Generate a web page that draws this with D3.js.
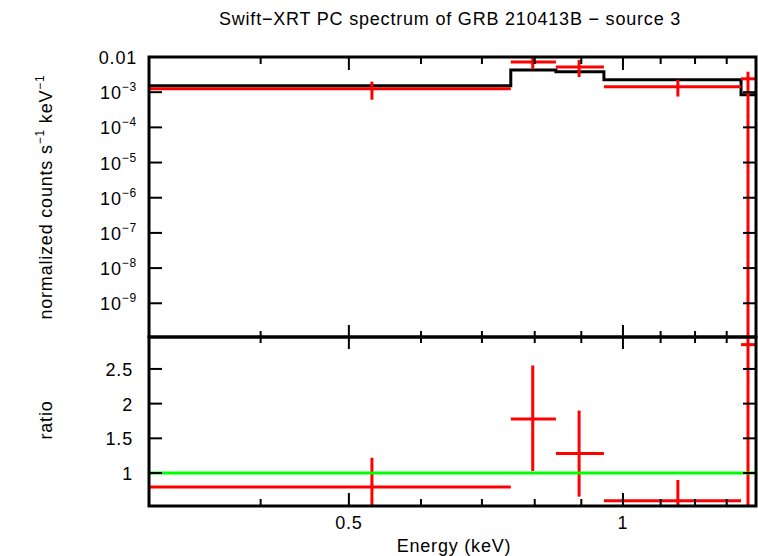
<!DOCTYPE html><html><head><meta charset="utf-8"><script src="https://cdn.jsdelivr.net/npm/d3@7"></script>
<style>body{margin:0;background:#fff}text{font-family:"Liberation Sans",Arial,sans-serif;fill:#000;letter-spacing:0.8px}</style></head><body>
<svg id="c" width="758" height="556"></svg>
<script>
const binLo=[0.3016,0.753,0.844,0.953,1.348];
const binHi=[0.753,0.844,0.953,1.348,1.40];
const binMid=[0.53,0.796,0.895,1.149,1.372];
const dataVal=[1.25e-3,7.2e-3,5.2e-3,1.43e-3,2.4e-3];
const dataLo=[6.1e-4,4.6e-3,2.7e-3,7.5e-4,1e-12];
const dataHi=[2.0e-3,1.14e-2,8.2e-3,2.25e-3,3.8e-3];
const modelVal=[1.52e-3,4.3e-3,3.8e-3,2.25e-3,8.5e-4];
const ratioVal=[0.8,1.78,1.28,0.6,2.85];
const ratioLo=[0.38,1.03,0.66,0.47,0];
const ratioHi=[1.22,2.55,1.9,0.9,10];
const yTickExp=[-9,-8,-7,-6,-5,-4,-3];
const ratioTicks=[1,1.5,2,2.5];
const xTicks=[0.5,1];

const svg=d3.select("#c");
const L=149,R=756,T1=57,B1=337,B2=506;
const x=d3.scaleLog().domain([0.3016,1.40]).range([L,R]);
const y=d3.scaleLog().domain([1.1e-10,0.01]).range([B1,T1]);
const yr=d3.scaleLinear().domain([0.525,2.96]).range([B2,B1]);
const red="#ff0000";
const cp=svg.append("defs");
cp.append("clipPath").attr("id","c1").append("rect").attr("x",L).attr("y",T1).attr("width",R-L).attr("height",B1-T1);
cp.append("clipPath").attr("id","c2").append("rect").attr("x",L).attr("y",B1).attr("width",R-L).attr("height",B2-B1);
const p1=svg.append("g").attr("clip-path","url(#c1)");
const p2=svg.append("g").attr("clip-path","url(#c2)");
let pts=[];
modelVal.forEach((v,i)=>{pts.push([x(binLo[i]),y(v)]);pts.push([x(binHi[i]),y(v)]);});
p1.append("path").attr("d",d3.line()(pts)).attr("fill","none").attr("stroke","#000").attr("stroke-width",3);
binMid.forEach((m,i)=>{
 p1.append("line").attr("x1",x(binLo[i])).attr("x2",x(binHi[i])).attr("y1",y(dataVal[i])).attr("y2",y(dataVal[i])).attr("stroke",red).attr("stroke-width",3);
 p1.append("line").attr("x1",x(m)).attr("x2",x(m)).attr("y1",y(dataLo[i])).attr("y2",y(dataHi[i])).attr("stroke",red).attr("stroke-width",3);
 p2.append("line").attr("x1",x(binLo[i])).attr("x2",x(binHi[i])).attr("y1",yr(ratioVal[i])).attr("y2",yr(ratioVal[i])).attr("stroke",red).attr("stroke-width",3);
 p2.append("line").attr("x1",x(m)).attr("x2",x(m)).attr("y1",yr(Math.max(ratioLo[i],0.4))).attr("y2",yr(Math.min(ratioHi[i],3.1))).attr("stroke",red).attr("stroke-width",3);
});
p2.append("line").attr("x1",L).attr("x2",R).attr("y1",yr(1)).attr("y2",yr(1)).attr("stroke","#00ff00").attr("stroke-width",3);
[[T1,B1],[B1,B2]].forEach(([a,b])=>svg.append("rect").attr("x",L).attr("y",a).attr("width",R-L).attr("height",b-a).attr("fill","none").attr("stroke","#000").attr("stroke-width",3));
const minorX=[0.4,0.6,0.7,0.8,0.9,1.1,1.2,1.3];
function tick(x1,y1,x2,y2){svg.append("line").attr("x1",x1).attr("y1",y1).attr("x2",x2).attr("y2",y2).attr("stroke","#000").attr("stroke-width",2);}
[T1,B1,B2].forEach(yy=>{
 const dir=(yy===T1)?1:(yy===B1?0:-1);
 minorX.forEach(v=>{const xx=x(v); if(dir===0){tick(xx,yy-6,xx,yy+6);} else tick(xx,yy,xx,yy+dir*7);});
 xTicks.forEach(v=>{const xx=x(v); if(dir===0){tick(xx,yy-12,xx,yy+12);} else tick(xx,yy,xx,yy+dir*13);});
});
xTicks.forEach(v=>svg.append("text").attr("x",x(v)).attr("y",B2+23).attr("text-anchor","middle").attr("font-size",18).text(v));
yTickExp.forEach(e=>{const yy=y(Math.pow(10,e)); tick(L,yy,L+13,yy); tick(R,yy,R-13,yy);
 const t=svg.append("text").attr("x",137).attr("y",yy+7).attr("text-anchor","end").attr("font-size",18);
 t.append("tspan").text("10");t.append("tspan").attr("font-size",12).attr("dy",-8).text("−"+(-e));});
svg.append("text").attr("x",137).attr("y",y(0.01)+7).attr("text-anchor","end").attr("font-size",18).text("0.01");
ratioTicks.forEach(v=>{const yy=yr(v); tick(L,yy,L+13,yy); tick(R,yy,R-13,yy);
 svg.append("text").attr("x",133).attr("y",yy+7).attr("text-anchor","end").attr("font-size",18).text(v);});
svg.append("text").attr("x",450).attr("y",25).attr("text-anchor","middle").attr("font-size",18).text("Swift−XRT PC spectrum of GRB 210413B − source 3");
svg.append("text").attr("x",454).attr("y",552).attr("text-anchor","middle").attr("font-size",18).text("Energy (keV)");
svg.append("text").attr("transform","translate(52,420) rotate(-90)").attr("text-anchor","middle").attr("font-size",18).text("ratio");
const yl=svg.append("text").attr("transform","translate(52,197) rotate(-90)").attr("text-anchor","middle").attr("font-size",18);
yl.append("tspan").text("normalized counts s");yl.append("tspan").attr("font-size",12).attr("dy",-8).text("−1");
yl.append("tspan").attr("dy",8).text(" keV");yl.append("tspan").attr("font-size",12).attr("dy",-8).text("−1");
</script></body></html>
